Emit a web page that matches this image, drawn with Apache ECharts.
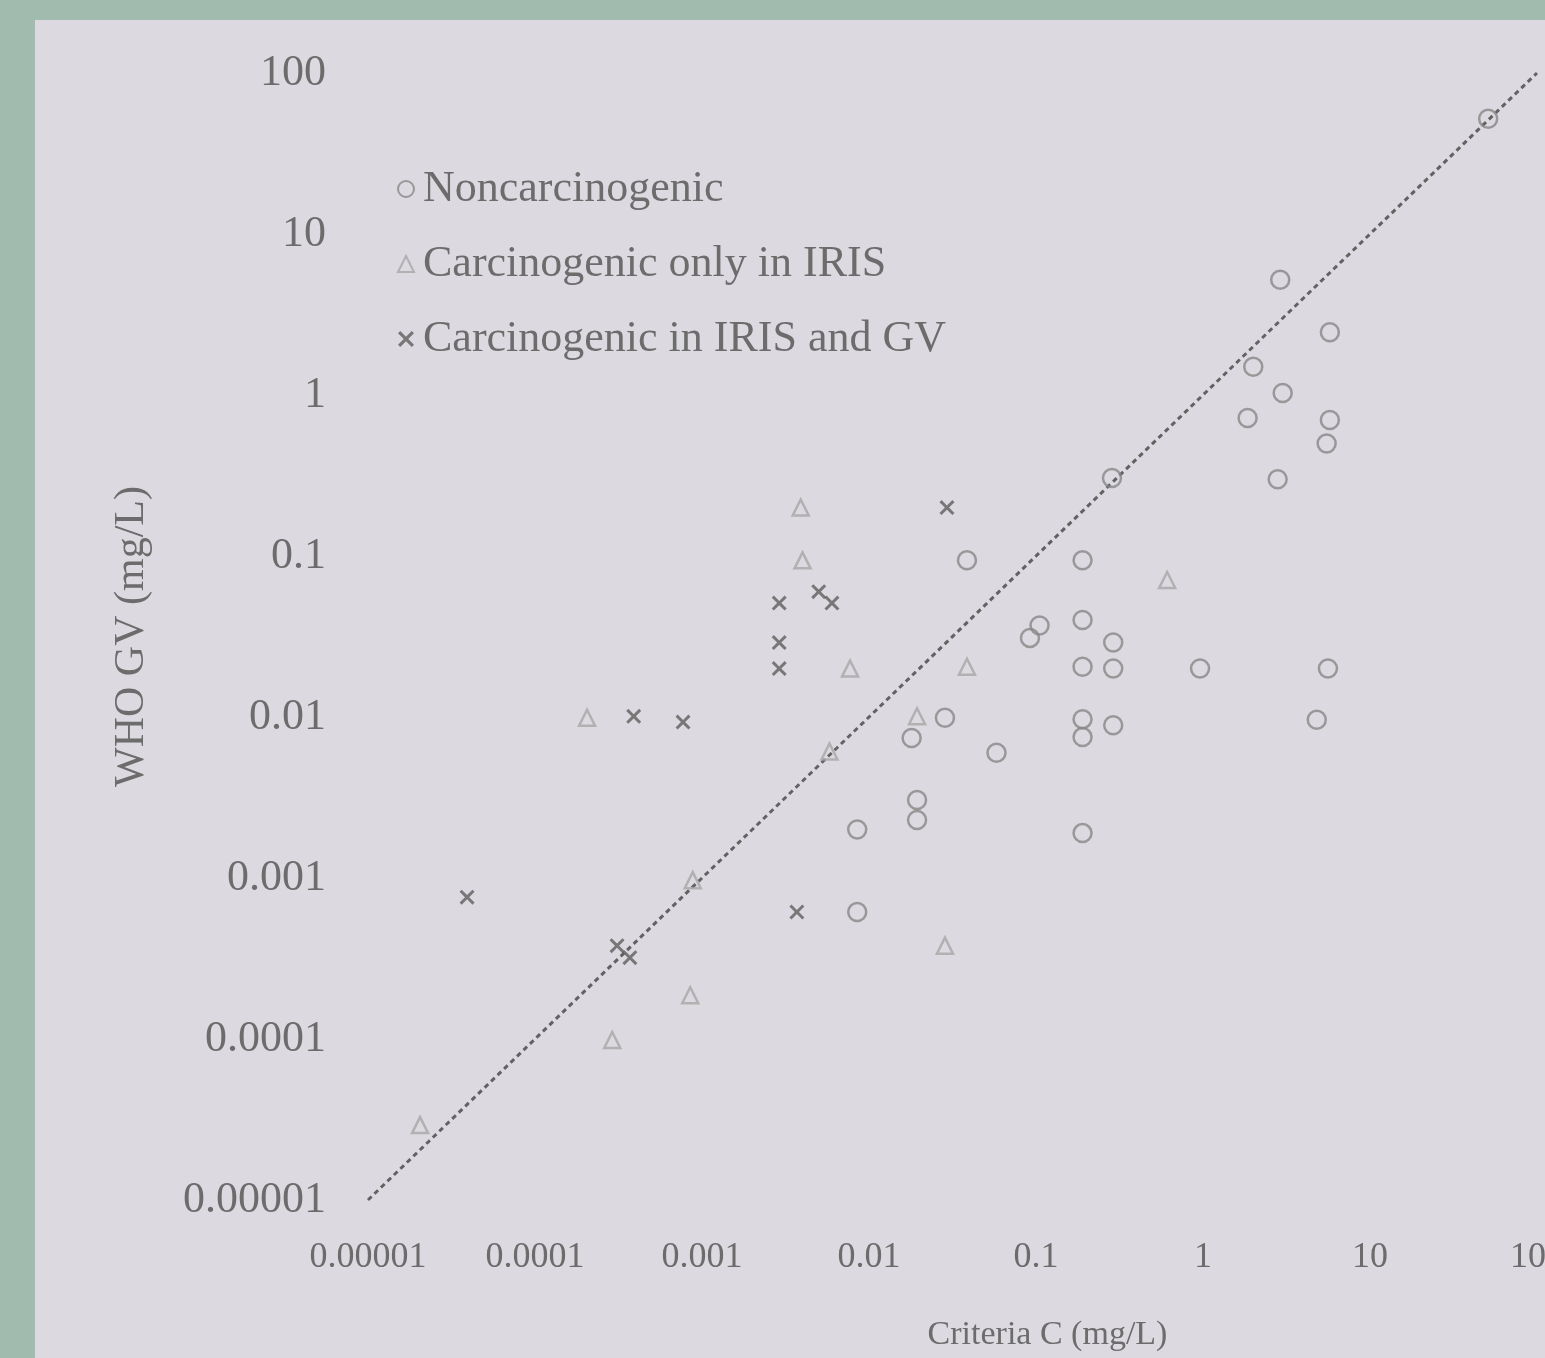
<!DOCTYPE html>
<html>
<head>
<meta charset="utf-8">
<script src="https://cdn.jsdelivr.net/npm/echarts@6/dist/echarts.min.js"></script>
<style>
html,body{margin:0;padding:0;width:1545px;height:1358px;background:#a2bbaf;overflow:hidden;}
#chart{position:absolute;left:35px;top:20px;width:1510px;height:1338px;background:#dcdae0;}
</style>
</head>
<body>
<div id="chart"></div>
<script>
// Data: [Criteria C (mg/L), WHO GV (mg/L)]
const noncarcinogenic = [
  [2.9,5.2],[5.75,2.45],[2.0,1.5],[3.0,1.03],[1.85,0.72],[5.75,0.70],[5.5,0.50],[2.8,0.30],
  [0.96,0.020],[5.6,0.020],[4.8,0.0096],[51,52],[0.285,0.305],[0.0386,0.094],[0.19,0.094],
  [0.092,0.031],[0.105,0.037],[0.19,0.040],[0.29,0.029],[0.19,0.0205],[0.29,0.020],
  [0.0285,0.0099],[0.018,0.0074],[0.058,0.006],[0.19,0.0097],[0.19,0.0075],[0.29,0.0089],
  [0.0194,0.00305],[0.0194,0.00229],[0.0085,0.0020],[0.19,0.0019],[0.0085,0.000615]
];
const carcinogenicIRIS = [
  [0.0039,0.20],[0.0040,0.094],[0.61,0.071],[0.0077,0.020],[0.0386,0.0205],[0.0194,0.0101],
  [0.0058,0.0061],[0.00088,0.00097],[0.0285,0.00038],[0.00085,0.000187],[0.00029,0.0000986],
  [0.0000205,0.0000292],[0.000205,0.0099]
];
const carcinogenicIRISGV = [
  [0.0293,0.20],[0.0029,0.051],[0.0050,0.060],[0.0060,0.051],[0.0029,0.029],[0.0029,0.020],
  [0.00039,0.0101],[0.00077,0.0093],[0.0000392,0.00076],[0.00031,0.00038],[0.00037,0.00032],
  [0.0037,0.000615]
];
const identityLine = [[0.00001,0.00001],[100,100]];
const xTickLabels = ['0.00001','0.0001','0.001','0.01','0.1','1','10','100'];
const yTickLabels = ['0.00001','0.0001','0.001','0.01','0.1','1','10','100'];
const seriesNames = ['Noncarcinogenic','Carcinogenic only in IRIS','Carcinogenic in IRIS and GV'];

const FONT = '"Liberation Serif","Times New Roman",serif';
const TEXT = '#6c6c6c';
const xPath = 'path://M0,1.4L1.4,0L5,3.6L8.6,0L10,1.4L6.4,5L10,8.6L8.6,10L5,6.4L1.4,10L0,8.6L3.6,5Z';

const chart = echarts.init(document.getElementById('chart'));
function lbl(arr){ return function(v){ const i = Math.round(Math.log10(v)) + 5; return arr[i] !== undefined ? arr[i] : ''; }; }

chart.setOption({
  animation:false,
  backgroundColor:'#dcdae0',
  grid:{left:333,right:8,top:53,bottom:158,outerBoundsMode:'none',containLabel:false},
  legend:{
    data:seriesNames, orient:'vertical', left:357, top:140,
    itemWidth:16, itemHeight:16, itemGap:27,
    textStyle:{fontFamily:FONT,fontSize:44,color:TEXT,lineHeight:48,padding:[0,0,0,4]}
  },
  xAxis:{
    type:'log', logBase:10, min:0.00001, max:100,
    name:'Criteria C (mg/L)', nameLocation:'middle', nameGap:118,
    nameTextStyle:{fontFamily:FONT,fontSize:34,color:TEXT,padding:[0,0,0,190]},
    axisLine:{show:false}, axisTick:{show:false}, splitLine:{show:false},
    axisLabel:{fontFamily:FONT,fontSize:36,color:TEXT,margin:40,formatter:lbl(xTickLabels)}
  },
  yAxis:{
    type:'log', logBase:10, min:0.00001, max:100,
    name:'WHO GV (mg/L)', nameLocation:'middle', nameGap:215,
    nameTextStyle:{fontFamily:FONT,fontSize:42,color:TEXT},
    axisLine:{show:false}, axisTick:{show:false}, splitLine:{show:false},
    axisLabel:{fontFamily:FONT,fontSize:44,color:TEXT,margin:42,formatter:lbl(yTickLabels)}
  },
  series:[
    {type:'line', name:'identity', data:identityLine, symbol:'none', silent:true, z:1,
     lineStyle:{color:'#626262',width:3,type:[5,4]}},
    {type:'scatter', name:seriesNames[0], data:noncarcinogenic, symbol:'circle', symbolSize:18, z:3,
     itemStyle:{color:'rgba(0,0,0,0)',borderColor:'#878787',borderWidth:2.5}},
    {type:'scatter', name:seriesNames[1], data:carcinogenicIRIS, symbol:'triangle', symbolSize:16, z:3,
     itemStyle:{color:'rgba(0,0,0,0)',borderColor:'#a6a6a6',borderWidth:2.5}},
    {type:'scatter', name:seriesNames[2], data:carcinogenicIRISGV, symbol:xPath, symbolSize:15, z:4,
     itemStyle:{color:'#5e5e5e'}}
  ]
});
</script>
</body>
</html>
